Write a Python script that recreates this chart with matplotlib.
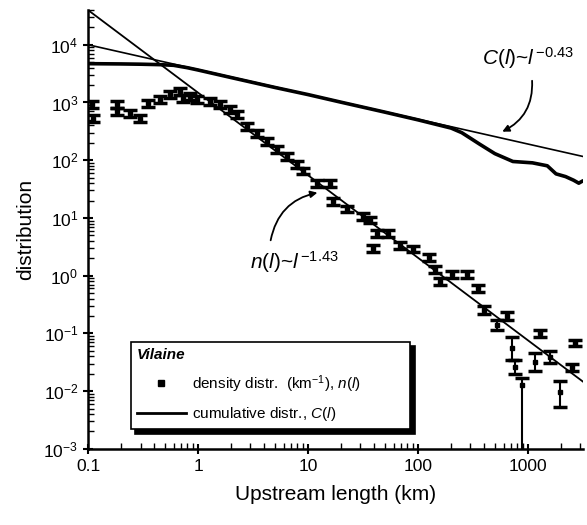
import numpy as np
import matplotlib.pyplot as plt
from matplotlib.lines import Line2D
from matplotlib.ticker import FuncFormatter

plt.rcParams['font.family'] = ['Liberation Sans', 'DejaVu Sans']
plt.rcParams['mathtext.fontset'] = 'custom'
plt.rcParams['mathtext.rm'] = 'Liberation Sans'
plt.rcParams['mathtext.it'] = 'Liberation Sans:italic'
plt.rcParams['mathtext.bf'] = 'Liberation Sans:bold'

# density distribution n(l) (km^-1)
length = [0.109, 0.11, 0.184, 0.184, 0.24, 0.297, 0.35, 0.45, 0.556, 0.685,
          0.73, 0.845, 0.98, 1.28, 1.58, 1.95, 2.26, 2.79, 3.44, 4.24,
          5.23, 6.45, 7.94, 9.0, 12.0, 15.8, 16.9, 22.6, 31.6, 37.0,
          39.0, 42.4, 53.0, 68.6, 90.0, 125, 143, 158, 205, 278,
          355, 400, 525, 645, 710, 760, 890, 1150, 1290, 1580,
          1950, 2510, 2700]
density = [930, 525, 930, 700, 645, 525, 960, 1120, 1380, 1550,
           1170, 1270, 1120, 1050, 930, 760, 620, 385, 292, 214,
           155, 117, 85, 65, 40, 39, 19.5, 14.3, 10.5, 9.2,
           3.0, 5.3, 5.3, 3.3, 2.9, 2.1, 1.3, 0.78, 1.05, 1.05,
           0.6, 0.25, 0.14, 0.2, 0.055, 0.026, 0.0126, 0.032, 0.1, 0.039,
           0.0095, 0.026, 0.068]
# error bar extent below / above each point, in decades
err_lo = [0.06] * 40 + [0.06, 0.07, 0.08, 0.07, 0.2, 0.12, 3.0, 0.15, 0.06, 0.1,
                        0.25, 0.06, 0.05]
err_hi = [0.06] * 40 + [0.06, 0.07, 0.08, 0.07, 0.2, 0.12, 0.12, 0.15, 0.06, 0.1,
                        0.2, 0.06, 0.05]

# cumulative distribution C(l)
cum_length = [0.1, 0.2, 0.3, 0.45, 0.6, 0.8, 1, 2, 5, 10, 20, 50, 100, 200,
              250, 300, 363, 500, 730, 1100, 1500, 1800, 2200, 2600, 2900, 3100]
cumulative = [4700, 4650, 4600, 4520, 4400, 4000, 3650, 2700, 1820, 1370,
              1010, 680, 500, 360, 300, 240, 190, 130, 95, 90, 80, 58, 52,
              45, 40, 43]

# power-law fits
n_amp, n_exp = 1480, -1.43
c_amp, c_exp = 3715, -0.43
fit_range = [0.1, 3160]

fig = plt.figure(figsize=(5.87, 5.25), dpi=100)
ax = fig.add_axes([0.15, 0.145, 0.843, 0.836])
ax.set_xscale('log')
ax.set_yscale('log')

n = np.array(density)
lo = n * (1 - 10 ** -np.array(err_lo))
hi = n * (10 ** np.array(err_hi) - 1)
ax.errorbar(length, n, yerr=[lo, hi], fmt='s', ms=3.5, color='k', ecolor='k',
            elinewidth=1.5, capsize=5, capthick=2.5, zorder=3)

l_fit = np.array(fit_range)
ax.plot(l_fit, n_amp * l_fit ** n_exp, color='k', lw=1.3)
ax.plot(l_fit, c_amp * l_fit ** c_exp, color='k', lw=1.2)
ax.plot(cum_length, cumulative, color='k', lw=2.6)

ax.set_xlim(0.1, 3160)
ax.set_ylim(1e-3, 4e4)

# annotations
ax.text(0.796, 0.89, r'$\it{C(l)}$~$\it{l}^{\,\mathrm{-0.43}}$', transform=ax.transAxes,
        fontsize=15, va='center', ha='left')
ax.annotate('', xy=(0.832, 0.72), xytext=(0.897, 0.845), xycoords='axes fraction',
            arrowprops=dict(arrowstyle='-|>', connectionstyle='arc3,rad=-0.35',
                            color='k', lw=1.3))
ax.text(0.327, 0.426, r'$\it{n(l)}$~$\it{l}^{\,\mathrm{-1.43}}$', transform=ax.transAxes,
        fontsize=15, va='center', ha='left')
ax.annotate('', xy=(0.469, 0.585), xytext=(0.368, 0.469), xycoords='axes fraction',
            arrowprops=dict(arrowstyle='-|>', connectionstyle='arc3,rad=-0.35',
                            color='k', lw=1.3))

handles = [Line2D([], [], marker='s', ls='none', color='k', ms=4),
           Line2D([], [], color='k', lw=2)]
labels = [r'density distr.  (km$^{-1}$), $\it{n(l)}$',
          r'cumulative distr., $\it{C(l)}$']
leg = ax.legend(handles, labels, title='Vilaine', loc='lower left',
                bbox_to_anchor=(0.071, 0.027, 0.596, 0.21), mode='expand',
                alignment='left', fancybox=False, edgecolor='k', framealpha=1,
                shadow={'color': 'k', 'alpha': 1, 'ox': 3, 'oy': -3},
                fontsize=11, handlelength=3.2, handletextpad=0.4, labelspacing=0.7,
                title_fontproperties={'style': 'italic', 'weight': 'bold', 'size': 11})
leg.get_frame().set_linewidth(1.2)

ax.spines['top'].set_visible(False)
ax.spines['right'].set_visible(False)
ax.spines['left'].set_linewidth(1.8)
ax.spines['bottom'].set_linewidth(1.8)
ax.set_xticks([0.1, 1, 10, 100, 1000])
ax.xaxis.set_major_formatter(FuncFormatter(lambda v, p: f'{v:g}'))
ax.tick_params(which='major', direction='inout', length=7, width=1.5, labelsize=12.5)
ax.tick_params(which='minor', direction='in', length=4, width=1)
ax.set_xlabel('Upstream length (km)', fontsize=15, labelpad=8)
ax.set_ylabel('distribution', fontsize=15, labelpad=6)

fig.savefig('out.png', dpi=100)
